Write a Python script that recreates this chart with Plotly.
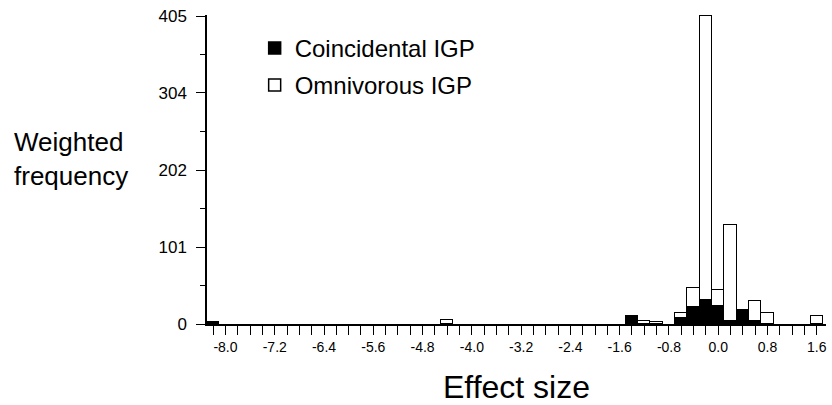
import plotly.graph_objects as go

# Bin centres (effect size), bin width 0.2
bin_centers = [-8.2, -4.4, -1.4, -1.2, -1.0, -0.6, -0.4, -0.2, 0.0, 0.2, 0.4, 0.6, 0.8, 1.6]
# Weighted frequency, stacked: coincidental (black) at bottom, omnivorous (white) on top
coincidental = [2, None, 11, None, None, 8, 22, 31, 24, 4, 18, 4, None, None]
omnivorous = [None, 5, None, 4, 2.5, 7, 25, 374, 21, 126, None, 26, 14, 11]

x_tick_vals = [round(-8.2 + 0.2 * i, 1) for i in range(50)]
x_tick_labels = ["-8.0", "-7.2", "-6.4", "-5.6", "-4.8", "-4.0", "-3.2", "-2.4",
                 "-1.6", "-0.8", "0.0", "0.8", "1.6"]
y_tick_vals = [0, 101, 202, 304, 405]
y_minor_vals = [50.5, 151.5, 253, 354.5]

label_map = {float(t): t for t in x_tick_labels}
x_tick_text = [label_map.get(v, "") for v in x_tick_vals]

FONT = "Liberation Sans, Arial, sans-serif"

fig = go.Figure()
fig.add_trace(go.Bar(
    x=bin_centers, y=coincidental, width=0.2, name="Coincidental IGP",
    marker=dict(color="black", line=dict(color="black", width=1.5)),
    legendgroup="a",
))
fig.add_trace(go.Bar(
    x=bin_centers, y=omnivorous, width=0.2, name="Omnivorous IGP",
    marker=dict(color="white", line=dict(color="black", width=1.5)),
    legendgroup="b",
))

fig.update_layout(
    width=832, height=405,
    margin=dict(l=207, r=6, t=15, b=81, autoexpand=False),
    barmode="stack",
    bargap=0,
    plot_bgcolor="white", paper_bgcolor="white",
    font=dict(family=FONT, color="black"),
    showlegend=True,
    legend=dict(
        x=0.077, y=0.965, xanchor="left", yanchor="top",
        font=dict(size=24, family=FONT, color="black"),
        traceorder="grouped", tracegroupgap=3,
        bgcolor="rgba(0,0,0,0)",
    ),
    xaxis=dict(
        range=[-8.3, 1.75], automargin=False,
        tickmode="array", tickvals=x_tick_vals, ticktext=x_tick_text,
        ticks="outside", ticklen=9, tickwidth=1.3, tickcolor="black",
        showline=True, linecolor="black", linewidth=1.5,
        showgrid=False, zeroline=False,
        tickfont=dict(size=14, family=FONT),
        title=dict(text="Effect size", font=dict(size=32, family=FONT), standoff=22),
    ),
    yaxis=dict(
        range=[0, 406.5], automargin=False,
        tickmode="array", tickvals=y_tick_vals,
        ticks="outside", ticklen=9, tickwidth=1.3, tickcolor="black",
        minor=dict(tickmode="array", tickvals=y_minor_vals, ticks="outside",
                   ticklen=5, tickwidth=1.3, tickcolor="black", showgrid=False),
        showline=True, linecolor="black", linewidth=1.5,
        showgrid=False, zeroline=False,
        tickfont=dict(size=17, family=FONT),
        ticklabelstandoff=6,
    ),
    annotations=[dict(
        text="Weighted<br>frequency", xref="paper", yref="paper",
        x=-0.315, y=0.533, xanchor="left", yanchor="middle", align="left",
        showarrow=False, font=dict(size=26, family=FONT, color="black"),
    )],
)

fig.write_html("out.html", config={"displayModeBar": False},
               post_script="document.body.style.margin='0';")
